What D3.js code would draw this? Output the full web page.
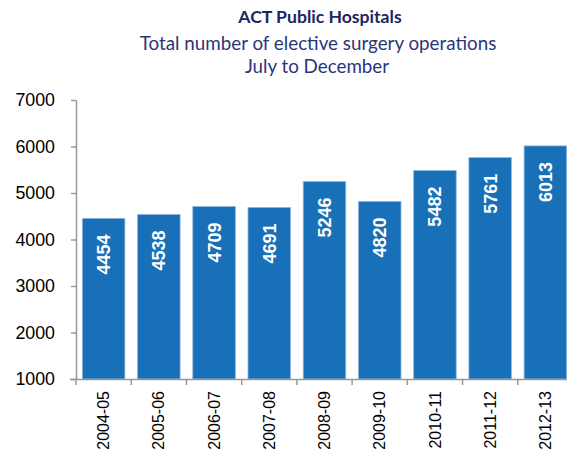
<!DOCTYPE html>
<html lang="en">
<head>
    <meta charset="UTF-8">
    <title>ACT Public Hospitals</title>
    <script src="https://d3js.org/d3.v7.min.js"></script>
    <style>
        body { margin: 0; background: #fff; }
        text { font-family: "Liberation Sans", Arial, sans-serif; }
    </style>
</head>
<body>
<svg id="main" width="567" height="455"></svg>
<script>
    // chart data
    let years = ['2004-05', '2005-06', '2006-07', '2007-08', '2008-09', '2009-10', '2010-11', '2011-12', '2012-13'];
    let operations = [4454, 4538, 4709, 4691, 5246, 4820, 5482, 5761, 6013];
    let yTicks = [1000, 2000, 3000, 4000, 5000, 6000, 7000];
    let titleLines = ['ACT Public Hospitals', 'Total number of elective surgery operations', 'July to December'];

    let svg = d3.select('#main');
    let plot = {left: 76, right: 573, top: 100, bottom: 379};
    let data = years.map(function(d, i){ return {year: d, value: operations[i]}; });

    let xScale = d3.scaleBand().domain(years).range([plot.left, plot.right])
        .paddingInner(0.23).paddingOuter(0.115);
    let yScale = d3.scaleLinear().domain([1000, 7000]).range([plot.bottom, plot.top]);

    // titles
    svg.append('text')
        .attr('x', 320).attr('y', 23)
        .attr('text-anchor', 'middle')
        .style('font-family', 'Lato, sans-serif')
        .style('font-weight', 'bold')
        .style('font-size', '17.6px')
        .style('fill', '#1c2660')
        .text(titleLines[0]);
    svg.append('text')
        .attr('x', 318).attr('y', 50)
        .attr('text-anchor', 'middle')
        .style('font-family', 'Lato, sans-serif')
        .style('font-size', '18.8px')
        .style('fill', '#2b3678')
        .text(titleLines[1]);
    svg.append('text')
        .attr('x', 317).attr('y', 73)
        .attr('text-anchor', 'middle')
        .style('font-family', 'Lato, sans-serif')
        .style('font-size', '18.8px')
        .style('fill', '#2b3678')
        .text(titleLines[2]);

    // bars
    svg.selectAll('rect.bar')
        .data(data)
        .enter()
        .append('rect')
        .attr('class', 'bar')
        .attr('x', function(d){ return xScale(d.year); })
        .attr('y', function(d){ return yScale(d.value); })
        .attr('width', xScale.bandwidth())
        .attr('height', function(d){ return yScale(1000) - yScale(d.value); })
        .style('fill', '#1770b8')
        .style('stroke', '#8fb6dc')
        .style('stroke-width', 0.8);

    // value labels inside bars
    svg.selectAll('text.val')
        .data(data)
        .enter()
        .append('text')
        .attr('class', 'val')
        .attr('transform', function(d){
            let cx = xScale(d.year) + xScale.bandwidth() / 2 + 6.5;
            return 'translate(' + cx + ',' + (yScale(d.value) + 16) + ') rotate(-90)';
        })
        .attr('text-anchor', 'end')
        .style('font-weight', 'bold')
        .style('font-size', '18px')
        .style('fill', '#fff')
        .text(function(d){ return d.value; });

    // y axis
    let yAxis = svg.append('g')
        .attr('transform', 'translate(' + plot.left + ',0)')
        .call(d3.axisLeft(yScale).tickValues(yTicks).tickSize(5).tickSizeOuter(0).tickPadding(16).tickFormat(d3.format('d')));
    yAxis.selectAll('text').style('font-size', '17.8px').style('fill', '#000');

    // x axis with ticks at category boundaries
    let xAxis = svg.append('g')
        .attr('transform', 'translate(0,' + plot.bottom + ')')
        .call(d3.axisBottom(xScale).tickSize(0).tickSizeOuter(0));
    xAxis.selectAll('text')
        .attr('transform', 'rotate(-90)')
        .attr('text-anchor', 'end')
        .attr('x', -12)
        .attr('y', 0)
        .attr('dy', '0.35em')
        .style('font-size', '16px')
        .style('fill', '#000');
    let step = xScale.step();
    xAxis.selectAll('line.sep')
        .data(d3.range(years.length + 1))
        .enter()
        .append('line')
        .attr('class', 'sep')
        .attr('x1', function(i){ return plot.left + i * step; })
        .attr('x2', function(i){ return plot.left + i * step; })
        .attr('y1', 0).attr('y2', 6);

    svg.selectAll('.domain, .tick line, line.sep')
        .style('stroke', '#999')
        .style('stroke-width', 1.5);
    xAxis.select('.domain').attr('d', 'M' + (plot.left - 6) + ',0.5H' + plot.right);
</script>
</body>
</html>
